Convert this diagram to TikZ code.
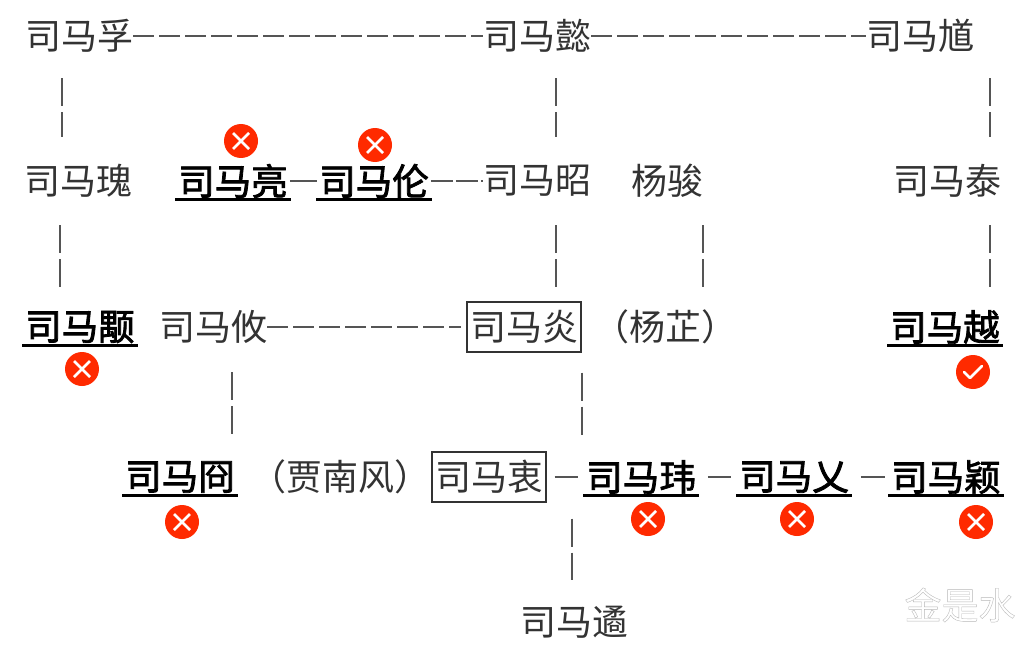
\documentclass[tikz,border=0pt]{standalone}
\usepackage{fontspec}
\setmainfont{Noto Sans CJK SC}
\newfontfamily\wmfont[FakeBold=1.0]{Noto Sans CJK SC}
\newfontfamily\heavyfont[FakeBold=2.2]{Noto Sans CJK SC}
\usetikzlibrary{calc}
\definecolor{inkgray}{HTML}{333333}
\definecolor{linegray}{HTML}{555555}
\definecolor{markred}{HTML}{FF2A00}
\tikzset{
  person/.style={inner sep=0pt,minimum height=36pt,text=inkgray,font=\fontsize{36}{36}\selectfont},
  killed/.style={inner sep=0pt,minimum height=36pt,text=black,font=\fontsize{36.5}{36}\heavyfont},
  ruler/.style={person,draw=inkgray,line width=1.3pt,inner xsep=3pt,minimum height=50pt},
  hlink/.style={draw=linegray,line width=1.5pt,dash pattern=on 21pt off 5pt},
  vlink/.style={draw=linegray,line width=1.6pt,dash pattern=on 28pt off 6pt},
  uline/.style={draw=black,line width=3pt},
  badge/.style={circle,fill=markred,minimum size=34pt,inner sep=0pt},
  cross/.style={draw=white,line width=2.6pt},
}
\newcommand{\Vlink}[5]{\coordinate (vx) at (#3,0);\draw[vlink,shorten <=#4pt,shorten >=#5pt] (vx |- #1.south) -- (vx |- #2.north);}
\newcommand{\Under}[1]{\draw[uline] ([xshift=-3pt]#1.south west) -- ([xshift=3pt]#1.south east);}
\newcommand{\Xbadge}[3]{\node[badge] (#1) at (#2,#3) {};
  \draw[cross] ([xshift=-8pt,yshift=8pt]#1.center) -- ([xshift=8pt,yshift=-8pt]#1.center);
  \draw[cross] ([xshift=-8pt,yshift=-8pt]#1.center) -- ([xshift=8pt,yshift=8pt]#1.center);}
\begin{document}
\begin{tikzpicture}[x=1pt,y=-1pt]
\useasboundingbox (0,0) rectangle (1036,650);
\fill[white] (0,0) rectangle (1036,650);
% row 1
\node[person] (fu) at (79,36) {司马孚};
\node[person] (yi) at (537,36) {司马懿};
\node[person] (kui) at (920,36) {司马馗};
% row 2
\node[person] (gui) at (78,181) {司马瑰};
\node[killed] (liang) at (233,181) {司马亮};
\node[killed] (lun) at (374,181) {司马伦};
\node[person] (zhao) at (537,181) {司马昭};
\node[person] (jun) at (667,181) {杨骏};
\node[person] (tai) at (947,181) {司马泰};
% row 3
\node[killed] (yong) at (80,327) {司马颙};
\node[person] (you) at (213,327) {司马攸};
\node[ruler] (yan) at (524,327) {司马炎};
\node[person] (zhi) at (665,327) {（杨芷）};
\node[killed] (yue) at (945,327) {司马越};
% row 4
\node[killed] (jiong) at (180,477) {司马冏};
\node[person] (jia) at (340,477) {（贾南风）};
\node[ruler] (zhong) at (489,477) {司马衷};
\node[killed] (wei) at (641,477) {司马玮};
\node[killed] (ai) at (794,477) {司马乂};
\node[killed] (ying) at (946,477) {司马颖};
% row 5
\node[person] (yu) at (574,622) {司马遹};
% horizontal links
\draw[hlink] (fu.east) -- (yi.west);
\draw[hlink] (yi.east) -- (kui.west);
\draw[hlink,solid,shorten <=2pt,shorten >=2pt] (liang.east) -- (lun.west);
\draw[hlink,dash pattern=on 22pt off 3pt,shorten <=2pt] (lun.east) -- (zhao.west);
\draw[hlink,shorten >=5pt] (you.east) -- (yan.west);
\draw[hlink,solid,shorten <=8pt,shorten >=8pt] (zhong.east) -- (wei.west);
\draw[hlink,solid,shorten <=12pt,shorten >=8pt] (wei.east) -- (ai.west);
\draw[hlink,solid,shorten <=12pt,shorten >=6pt] (ai.east) -- (ying.west);
% vertical links
\Vlink{fu}{gui}{62}{24}{26}
\Vlink{yi}{zhao}{556}{24}{26}
\Vlink{kui}{tai}{990}{24}{26}
\Vlink{gui}{yong}{60}{26}{22}
\Vlink{zhao}{yan}{556}{26}{14}
\Vlink{jun}{zhi}{703}{26}{22}
\Vlink{tai}{yue}{990}{26}{22}
\Vlink{you}{jiong}{232}{27}{24}
\Vlink{yan}{wei}{582}{20}{24}
\Vlink{zhong}{yu}{572}{16}{24}
% underlines
\Under{liang}
\Under{lun}
\Under{yong}
\Under{yue}
\Under{jiong}
\Under{wei}
\Under{ai}
\Under{ying}
% badges
\Xbadge{b1}{241}{141}
\Xbadge{b2}{375}{145}
\Xbadge{b3}{82}{369}
\Xbadge{b4}{182}{522}
\Xbadge{b5}{648}{519}
\Xbadge{b6}{797}{519}
\Xbadge{b7}{976}{522}
\node[badge] (b8) at (973,372) {};
\draw[cross,line cap=round,line join=round] ([xshift=-9pt]b8.center) -- ([xshift=-3pt,yshift=-6pt]b8.center) -- ([xshift=9pt,yshift=6pt]b8.center);
% watermark
\node[inner sep=0pt,text=white] (wm) at (960,605) {\fontsize{37}{36}\wmfont\special{pdf:code 0.72 G}金是水};
\end{tikzpicture}
\end{document}
